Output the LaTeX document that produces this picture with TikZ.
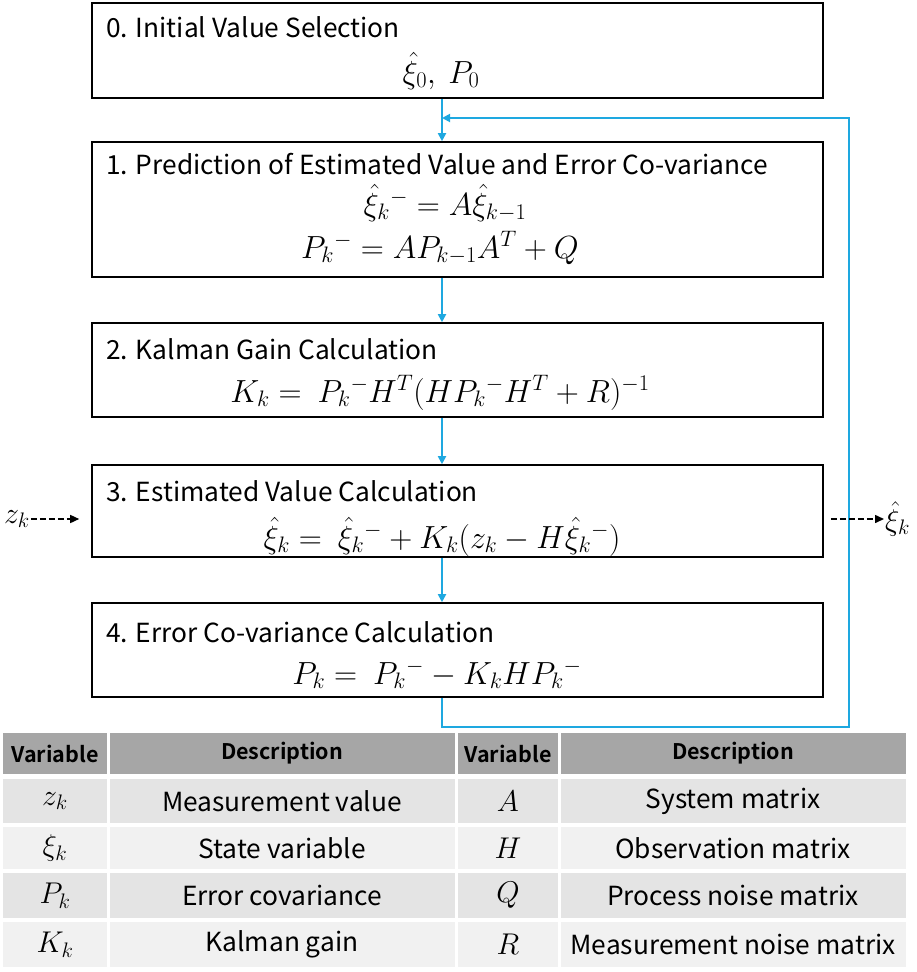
\RequirePackage{fix-cm}
\documentclass[tikz,border=0pt]{standalone}
\usepackage[no-math]{fontspec}
\setmainfont{Noto Sans CJK KR}[BoldFont={Noto Sans CJK KR Bold}]
\usetikzlibrary{arrows.meta,positioning}

\definecolor{loopblue}{RGB}{30,168,224}
\definecolor{headgray}{RGB}{166,166,166}
\definecolor{rowdark}{RGB}{228,228,228}
\definecolor{rowlight}{RGB}{241,241,241}

\tikzset{
  stepbox/.style={draw, line width=1.6pt, minimum width=731pt, inner sep=0pt},
  boxtitle/.style={anchor=base west, inner sep=0pt, font=\fontsize{26.3}{30}\selectfont},
  formula/.style={anchor=base, inner sep=0pt, font=\fontsize{32}{36}\selectfont},
  flowline/.style={draw=loopblue, line width=1.8pt, -{Triangle[length=8pt,width=8pt]}},
  dashflow/.style={line width=1.5pt, dash pattern=on 6pt off 3pt, -{Triangle[length=9pt,width=8pt]}},
  sidelabel/.style={inner sep=1pt, font=\fontsize{30}{34}\selectfont},
  headtext/.style={inner sep=0pt, font=\fontsize{21.5}{25}\selectfont\bfseries},
  celltext/.style={inner sep=0pt, font=\fontsize{26.3}{30}\selectfont},
  cellmath/.style={inner sep=0pt, font=\fontsize{30}{34}\selectfont},
}

\begin{document}
\begin{tikzpicture}[x=1pt, y=-1pt]

    % --- Page frame (pixel grid of the reference) ---
    \useasboundingbox (0,0) rectangle (916,972);

    % --- Step boxes ---
    \node[stepbox, minimum height=95pt] (b0) at (457.5,50.5) {};
    \node[stepbox, minimum height=135pt] (b1) at (457.5,209.5) {};
    \node[stepbox, minimum height=94pt] (b2) at (457.5,370) {};
    \node[stepbox, minimum height=92pt] (b3) at (457.5,511) {};
    \node[stepbox, minimum height=94pt] (b4) at (457.5,650) {};

    % --- Step titles ---
    \node[boxtitle] (t0) at (106,37) {0. Initial Value Selection};
    \node[boxtitle] (t1) at (106,174) {1. Prediction of Estimated Value and Error Co-variance};
    \node[boxtitle] (t2) at (106,359) {2. Kalman Gain Calculation};
    \node[boxtitle] (t3) at (106,501) {3. Estimated Value Calculation};
    \node[boxtitle] (t4) at (106,642) {4. Error Co-variance Calculation};

    % --- Step formulas ---
    \node[formula] (f0) at (441,83) {$\hat{\xi}_0,\ P_0$};
    \node[formula] (f1a) at (445,215) {$\hat{\xi}_k{}^{-} = A\hat{\xi}_{k-1}$};
    \node[formula] (f1b) at (440,258) {$P_k{}^{-} = AP_{k-1}A^T + Q$};
    \node[formula] (f2) at (440,402) {$K_k =\ P_k{}^{-}H^T(HP_k{}^{-}H^T + R)^{-1}$};
    \node[formula] (f3) at (442,548) {$\hat{\xi}_k =\ \hat{\xi}_k{}^{-} + K_k(z_k - H\hat{\xi}_k{}^{-})$};
    \node[formula] (f4) at (437,684) {$P_k =\ P_k{}^{-} - K_kHP_k{}^{-}$};

    % --- Flow between steps ---
    \coordinate (axis) at (442,0);
    \coordinate (join) at (442,118);
    \coordinate (loopR) at (849,727);
    \draw[flowline] (b0.south -| axis) -- (b1.north -| axis);
    \draw[flowline] (b1.south -| axis) -- (b2.north -| axis);
    \draw[flowline] (b2.south -| axis) -- (b3.north -| axis);
    \draw[flowline] (b3.south -| axis) -- (b4.north -| axis);

    % feedback loop back into step 1
    \draw[flowline] (b4.south -| axis) |- (loopR) |- (join);

    % --- Measurement in, estimate out ---
    \node[sidelabel] (zk) at (17,519) {$z_k$};
    \node[sidelabel, anchor=west] (xiout) at (884,519) {$\hat{\xi}_k$};
    \draw[dashflow, shorten >=12pt] (zk.east) -- (zk.east -| b3.west);
    \draw[dashflow, shorten <=7pt] (zk.east -| b3.east) -- (xiout.west);

    % --- Table header ---
    \fill[headgray] (3,733) rectangle (107,774);
    \fill[headgray] (110,733) rectangle (455,774);
    \fill[headgray] (458,733) rectangle (558,774);
    \fill[headgray] (561,733) rectangle (906,774);
    \node[headtext] (hv1) at (55,753.5) {Variable};
    \node[headtext] (hd1) at (282,753.5) {Description};
    \node[headtext] (hv2) at (508,753.5) {Variable};
    \node[headtext] (hd2) at (733,753.5) {Description};

    % --- Table rows ---
    \foreach \r/\top/\bot/\shade/\va/\da/\vb/\db in {
        1/779/823/rowdark/{$z_k$}/{Measurement value}/{$A$}/{System matrix},
        2/827/869/rowlight/{$\xi_k$}/{State variable}/{$H$}/{Observation matrix},
        3/873/918/rowdark/{$P_k$}/{Error covariance}/{$Q$}/{Process noise matrix},
        4/922/967/rowlight/{$K_k$}/{Kalman gain}/{$R$}/{Measurement noise matrix}}{
      \fill[\shade] (3,\top) rectangle (107,\bot);
      \fill[\shade] (110,\top) rectangle (455,\bot);
      \fill[\shade] (458,\top) rectangle (558,\bot);
      \fill[\shade] (561,\top) rectangle (906,\bot);
      \node[cellmath] (va\r) at (55,{(\top+\bot)/2}) {\va};
      \node[celltext] (da\r) at (282,{(\top+\bot)/2}) {\da};
      \node[cellmath] (vb\r) at (508,{(\top+\bot)/2}) {\vb};
      \node[celltext] (db\r) at (733,{(\top+\bot)/2}) {\db};
    }

\end{tikzpicture}
\end{document}
